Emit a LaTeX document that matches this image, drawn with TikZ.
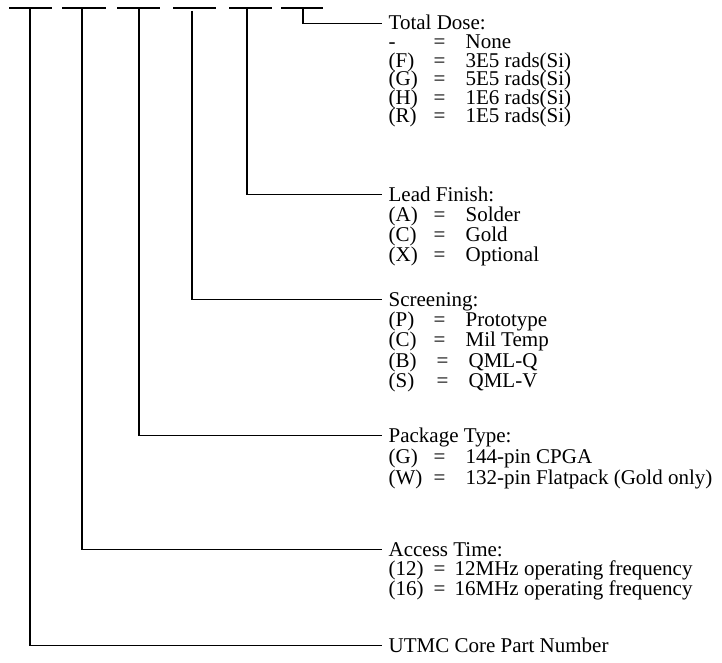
\documentclass[tikz,border=0pt]{standalone}
\usepackage{fontspec}
\setmainfont{Liberation Serif}
\newcommand\ent[3]{\makebox[45pt][l]{#1}\makebox[32pt][l]{#2}#3}
\begin{document}
\begin{tikzpicture}[x=1pt,y=-1pt,line width=1.3pt,
  hdr/.style={anchor=base west,inner sep=0pt,inner xsep=6pt,text height=13pt,text depth=0pt,font=\fontsize{21}{24}\selectfont},
  ent/.style={anchor=base west,inner sep=0pt,font=\fontsize{21}{24}\selectfont},
  dashseg/.style={line width=1.6pt}]
\useasboundingbox (0,0) rectangle (722,663);
% top blanks
\draw[dashseg] (9,8) -- (52,8);
\draw[dashseg] (62,8) -- (106,8);
\draw[dashseg] (117,8) -- (160,8);
\draw[dashseg] (173,8) -- (216,8);
\draw[dashseg] (229,8) -- (272,8);
\draw[dashseg] (281,8) -- (323,8);
\coordinate (c1) at (30,8);
\coordinate (c2) at (82,8);
\coordinate (c3) at (139,8);
\coordinate (c4) at (192,11);
\coordinate (c5) at (247,8);
\coordinate (c6) at (303,8);
% Total Dose
\node[hdr] (tdh) at (382,30) {Total Dose:};
\node[ent] (td0) at (388,49) {\ent{-}{=}{None}};
\node[ent] (td1) at (388,67.5) {\ent{(F)}{=}{3E5 rads(Si)}};
\node[ent] (td2) at (388,86) {\ent{(G)}{=}{5E5 rads(Si)}};
\node[ent] (td3) at (388,104.5) {\ent{(H)}{=}{1E6 rads(Si)}};
\node[ent] (td4) at (388,123) {\ent{(R)}{=}{1E5 rads(Si)}};
% Lead Finish
\node[hdr] (lfh) at (382,201) {Lead Finish:};
\node[ent] (lf1) at (388,221) {\ent{(A)}{=}{Solder}};
\node[ent] (lf2) at (388,241) {\ent{(C)}{=}{Gold}};
\node[ent] (lf3) at (388,261) {\ent{(X)}{=}{Optional}};
% Screening
\node[hdr] (sch) at (382,306) {Screening:};
\node[ent] (sc1) at (388,326) {\ent{(P)}{=}{Prototype}};
\node[ent] (sc2) at (388,346.5) {\ent{(C)}{=}{Mil Temp}};
\node[ent] (sc3) at (388,367) {\makebox[48pt][l]{(B)}\makebox[32pt][l]{=}QML-Q};
\node[ent] (sc4) at (388,387.5) {\makebox[48pt][l]{(S)}\makebox[32pt][l]{=}QML-V};
% Package Type
\node[hdr] (pkh) at (382,442) {Package Type:};
\node[ent] (pk1) at (388,463) {\ent{(G)}{=}{144-pin CPGA}};
\node[ent] (pk2) at (388,484) {\ent{(W)}{=}{132-pin Flatpack (Gold only)}};
% Access Time
\node[hdr] (ath) at (382,556) {Access Time:};
\node[ent] (at1) at (388,575) {\makebox[45pt][l]{(12)}\makebox[21pt][l]{=}12MHz operating frequency};
\node[ent] (at2) at (388,595) {\makebox[45pt][l]{(16)}\makebox[21pt][l]{=}16MHz operating frequency};
% Core
\node[hdr] (cph) at (382,652) {UTMC Core Part Number};
% connectors
\draw (c6) |- (tdh.west);
\draw (c5) |- (lfh.west);
\draw (c4) |- (sch.west);
\draw (c3) |- (pkh.west);
\draw (c2) |- (ath.west);
\draw (c1) |- (cph.west);
\end{tikzpicture}
\end{document}
